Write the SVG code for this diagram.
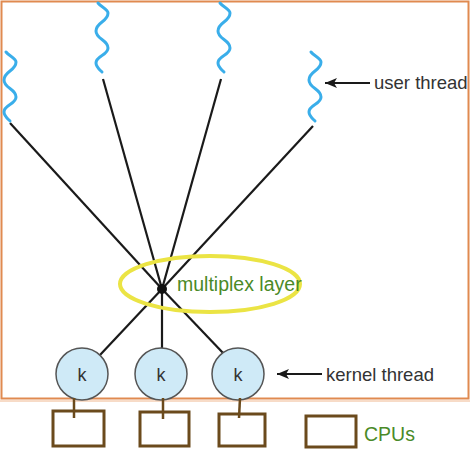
<svg xmlns="http://www.w3.org/2000/svg" width="470" height="456" viewBox="0 0 470 456">
<style>
.wave{fill:none;stroke:#3aaeea;stroke-width:3;stroke-linecap:round}
.ln{stroke:#1a1a1a;stroke-width:2.2;fill:none}
.k{fill:#cfeaf7;stroke:#555;stroke-width:1.5}
.kt{font-family:"Liberation Sans",Arial,sans-serif;font-size:18px;fill:#333;text-anchor:middle}
.lbl{font-family:"Liberation Sans",Arial,sans-serif;font-size:18.5px;fill:#333}
.grn{font-family:"Liberation Sans",Arial,sans-serif;font-size:19.5px;fill:#4a8a28}
.cpu{fill:#fff;stroke:#6b4a1c;stroke-width:3}
.cl{stroke:#6b4a1c;stroke-width:2.5}
</style>
<defs>
<marker id="ah" markerWidth="13" markerHeight="10" refX="12" refY="5" orient="auto" markerUnits="userSpaceOnUse">
<path d="M0,0 L12,5 L0,10 L3,5 Z" fill="#1a1a1a"/>
</marker>
<path id="w" d="M-4,0 C-1,4 6,6 6,10 C6,19 -6,19 -6,28 C-6,36.5 6,36.5 6,45 C6,52.5 -6,52.5 -6,60 C-6,64 -2,67 0,69"/>
</defs>
<rect x="1.5" y="1.5" width="467" height="397" fill="none" stroke="#e08a50" stroke-width="2"/>
<line x1="0" y1="401" x2="470" y2="401" stroke="#f0b890" stroke-width="1"/>
<g id="connectors">
<line class="ln" x1="10" y1="123" x2="162" y2="289"/>
<line class="ln" x1="103" y1="79" x2="162" y2="289"/>
<line class="ln" x1="221" y1="79" x2="162" y2="289"/>
<line class="ln" x1="313" y1="126" x2="162" y2="289"/>
<line class="ln" x1="162" y1="289" x2="100" y2="355"/>
<line class="ln" x1="162" y1="289" x2="162" y2="348"/>
<line class="ln" x1="162" y1="289" x2="224" y2="354"/>
<line class="ln" x1="370" y1="83" x2="325" y2="83" marker-end="url(#ah)"/>
<line class="ln" x1="322" y1="374" x2="277" y2="374" marker-end="url(#ah)"/>
</g>
<g id="user-threads" class="wave">
<use href="#w" transform="translate(10,52)"/>
<use href="#w" transform="translate(102,3)"/>
<use href="#w" transform="translate(224,3)"/>
<use href="#w" transform="translate(315,52)"/>
</g>
<g id="user-thread-label"><text class="lbl" x="374" y="89">user thread</text></g>
<g id="multiplex">
<ellipse cx="210" cy="284" rx="90" ry="28" fill="none" stroke="#ebe444" stroke-width="4"/>
<circle cx="162" cy="289" r="5" fill="#111"/>
<text class="grn" x="177" y="291">multiplex layer</text>
</g>
<g id="k1"><circle class="k" cx="82" cy="374" r="26"/><text class="kt" x="82" y="381">k</text></g>
<g id="k2"><circle class="k" cx="161" cy="374" r="26"/><text class="kt" x="161" y="381">k</text></g>
<g id="k3"><circle class="k" cx="238" cy="374" r="26"/><text class="kt" x="238" y="381">k</text></g>
<g id="kernel-thread-label"><text class="lbl" x="326" y="381">kernel thread</text></g>
<g id="cpu1"><rect class="cpu" x="53" y="411" width="51" height="35"/></g>
<g id="cpu2"><rect class="cpu" x="140" y="412" width="49" height="34"/></g>
<g id="cpu3"><rect class="cpu" x="219" y="414" width="46" height="32"/></g>
<g id="cpu4"><rect class="cpu" x="306" y="416" width="50" height="31"/><text class="grn" x="364" y="441">CPUs</text></g>
<g id="cpu-links">
<line class="cl" x1="74" y1="398" x2="74" y2="418"/>
<line class="cl" x1="163" y1="398" x2="163" y2="419"/>
<line class="cl" x1="240" y1="398" x2="239" y2="418"/>
</g>
</svg>
